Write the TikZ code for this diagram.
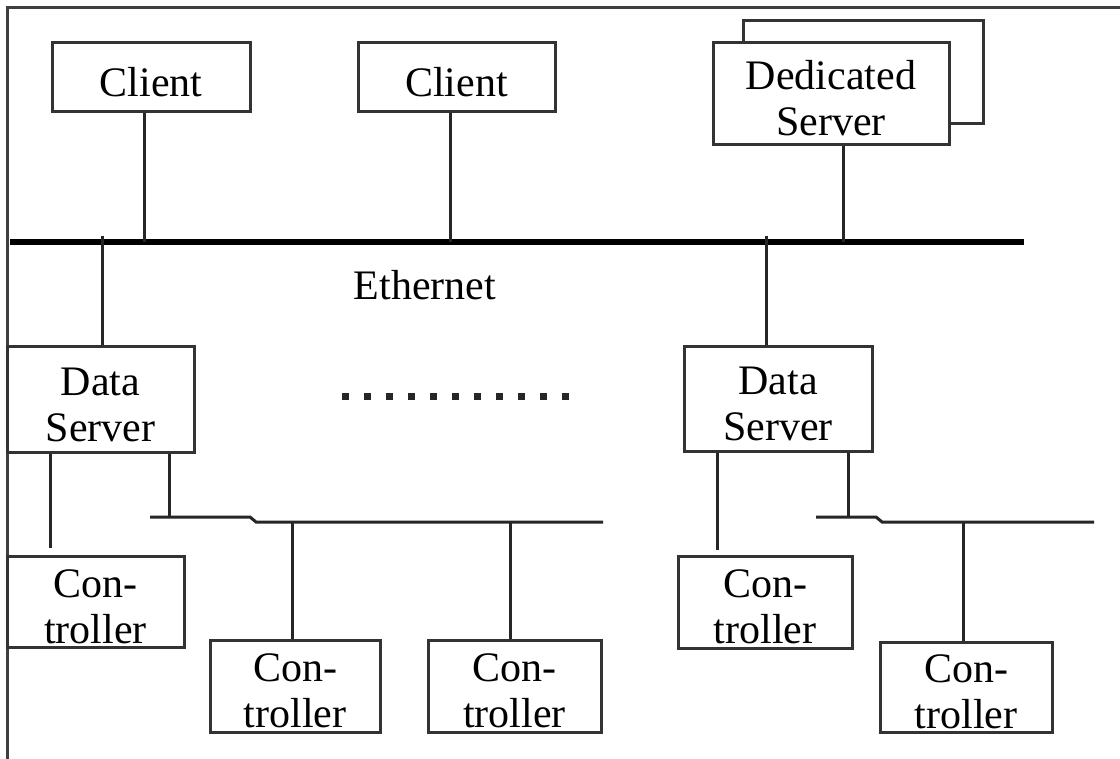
\documentclass[tikz,border=0pt]{standalone}
\usepackage{fontspec}
\setmainfont{Liberation Serif}
% invisible strut that lowers the text a little inside each box
\newcommand\boxlift{\rule{0pt}{38pt}}
\begin{document}
\begin{tikzpicture}[x=1pt,y=-1pt,
  box/.style={draw=black!80, line width=3pt, fill=white, inner sep=0pt,
    align=center, font=\fontsize{42}{46}\selectfont},
  wire/.style={draw=black!85, line width=3pt},
  busline/.style={draw=black, line width=6pt},
  frame/.style={draw=black!75, line width=3pt},
  lbl/.style={inner sep=0pt, font=\fontsize{42}{46}\selectfont}]
\useasboundingbox (0,0) rectangle (1120,759);
\fill[white] (0,0) rectangle (1120,759);

% outer frame (top and left edges only)
\draw[frame] (7,759) -- (7,7.5) -- (1120,7.5);

% ---- top row: clients and dedicated server
\node[box, minimum width=198pt, minimum height=69pt] (c1) at (151,77.5) {\boxlift Client};
\node[box, minimum width=197pt, minimum height=69pt] (c2) at (456.5,77.5) {\boxlift Client};
\node[box, minimum width=240pt, minimum height=103pt] (dback) at (863,72.5) {};
\node[box, minimum width=236pt, minimum height=102pt] (dsrv) at (831,94) {\boxlift Dedicated\\Server};

% ---- Ethernet backbone
\coordinate (ethL) at (10,242);
\coordinate (ethR) at (1024,242);
\draw[busline] (ethL) -- (ethR);
\node[lbl] (eth) at (425,285) {Ethernet};

\coordinate (tc1) at (144,242);
\coordinate (tc2) at (450,242);
\coordinate (td) at (843,242);
\draw[wire] (c1.south -| tc1) -- (tc1);
\draw[wire] (c2.south -| tc2) -- (tc2);
\draw[wire] (dsrv.south -| td) -- (td);

% ---- data servers
\node[box, minimum width=187pt, minimum height=105pt] (dsL) at (100.5,399.5) {\boxlift Data\\Server};
\node[box, minimum width=188pt, minimum height=104pt] (dsR) at (778,399) {\boxlift Data\\Server};

\coordinate (tL) at (102,236);
\coordinate (tR) at (766,236);
\draw[wire] (tL) -- (dsL.north -| tL);
\draw[wire] (tR) -- (dsR.north -| tR);

% ellipsis between the two groups
\foreach \i in {0,...,10}
  \fill[black!85] ({345+22*\i-3.5},393.5) rectangle ++(7,7);

% ---- controllers
\node[box, minimum width=177pt, minimum height=91pt] (ctL1) at (95.5,601.5) {\boxlift Con-\\troller};
\node[box, minimum width=170pt, minimum height=92pt] (ctL2) at (295,686) {\boxlift Con-\\troller};
\node[box, minimum width=173pt, minimum height=92pt] (ctL3) at (514.5,686) {\boxlift Con-\\troller};
\node[box, minimum width=174pt, minimum height=92pt] (ctR1) at (765,602) {\boxlift Con-\\troller};
\node[box, minimum width=172pt, minimum height=90pt] (ctR2) at (966,687) {\boxlift Con-\\troller};

% left field bus
\coordinate (bL1) at (150,517);
\coordinate (bL2) at (250,517);
\coordinate (bL3) at (256,522);
\coordinate (bL4) at (603,522);
\draw[wire] (bL1) -- (bL2) -- (bL3) -- (bL4);
\coordinate (jL) at (169,517);
\draw[wire] (dsL.south -| jL) -- (jL);
\coordinate (eL) at (50,548);
\draw[wire] (dsL.south -| eL) -- (eL);
\coordinate (dL2) at (292,522);
\coordinate (dL3) at (510,522);
\draw[wire] (dL2) -- (ctL2.north -| dL2);
\draw[wire] (dL3) -- (ctL3.north -| dL3);

% right field bus
\coordinate (bR1) at (816,517);
\coordinate (bR2) at (876,517);
\coordinate (bR3) at (882,522);
\coordinate (bR4) at (1094,522);
\draw[wire] (bR1) -- (bR2) -- (bR3) -- (bR4);
\coordinate (jR) at (848,517);
\draw[wire] (dsR.south -| jR) -- (jR);
\coordinate (eR) at (717,550);
\draw[wire] (dsR.south -| eR) -- (eR);
\coordinate (dR2) at (963,522);
\draw[wire] (dR2) -- (ctR2.north -| dR2);
\end{tikzpicture}
\end{document}
